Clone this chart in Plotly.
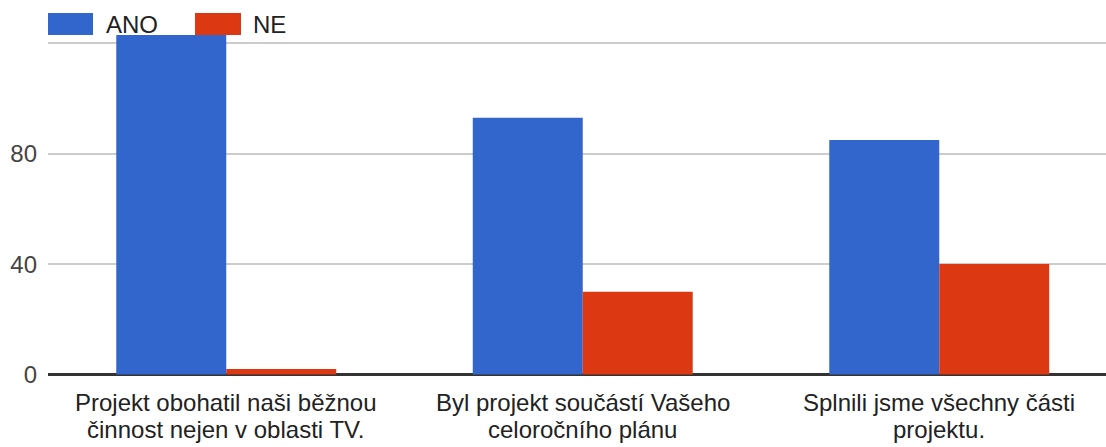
import plotly.graph_objects as go

# ---- data ----
categories = ["Projekt obohatil naši běžnou činnost nejen v oblasti TV.",
              "Byl projekt součástí Vašeho celoročního plánu",
              "Splnili jsme všechny části projektu."]
label_line1 = ["Projekt obohatil naši běžnou", "Byl projekt součástí Vašeho", "Splnili jsme všechny části"]
label_line2 = ["činnost nejen v oblasti TV.", "celoročního plánu", "projektu."]
series_names = ["ANO", "NE"]
ano_values = [123, 93, 85]
ne_values = [2, 30, 40]
tick_values = [0, 40, 80, 120]
tick_labels = ["0", "40", "80", ""]

BLUE = "#3366cc"
RED = "#dc3912"
FONT = "Arial, 'Liberation Sans', sans-serif"

W, H = 1106, 447
ML, MR, MT, MB = 48, 0, 0, 70
PW, PH = W - ML - MR, H - MT - MB


def px_to_paper_x(px):
    return (px - ML) / PW


def px_to_paper_y(py):
    return (H - MB - py) / PH


fig = go.Figure()
fig.add_trace(go.Bar(x=list(range(len(categories))), y=ano_values, name=series_names[0],
                     marker=dict(color=BLUE, line=dict(width=0))))
fig.add_trace(go.Bar(x=list(range(len(categories))), y=ne_values, name=series_names[1],
                     marker=dict(color=RED, line=dict(width=0))))

# manual legend (large swatches)
legend_items = [(series_names[0], BLUE, 48, 93, 104), (series_names[1], RED, 195, 241, 251)]
for name, color, x0, x1, tx in legend_items:
    fig.add_shape(type="rect", xref="paper", yref="paper",
                  x0=px_to_paper_x(x0), x1=px_to_paper_x(x1),
                  y0=px_to_paper_y(35), y1=px_to_paper_y(13),
                  fillcolor=color, line=dict(width=0), layer="above")
    fig.add_annotation(xref="paper", yref="paper", x=px_to_paper_x(tx), y=px_to_paper_y(24),
                       text=name, showarrow=False, xanchor="left", yanchor="middle",
                       font=dict(family=FONT, size=24, color="#222222"))

# category labels (two lines each)
for i in range(len(categories)):
    fig.add_annotation(xref="x", yref="paper", x=i, y=px_to_paper_y(403),
                       text=label_line1[i], showarrow=False, xanchor="center", yanchor="middle",
                       font=dict(family=FONT, size=24, color="#222222"))
    fig.add_annotation(xref="x", yref="paper", x=i, y=px_to_paper_y(429),
                       text=label_line2[i], showarrow=False, xanchor="center", yanchor="middle",
                       font=dict(family=FONT, size=24, color="#222222"))

px_per_unit = 2.76
y_bottom = -(H - MB - 374.5) / px_per_unit
y_top = y_bottom + PH / px_per_unit

fig.update_layout(
    width=W, height=H,
    margin=dict(l=ML, r=MR, t=MT, b=MB, pad=0),
    paper_bgcolor="white", plot_bgcolor="white",
    showlegend=False,
    barmode="group", bargap=0.383, bargroupgap=0.0,
    font=dict(family=FONT, size=24, color="#444444"),
    xaxis=dict(range=[-0.5, -0.5 + PW / 356.5], showticklabels=False, showgrid=False,
               zeroline=False, showline=False, ticks=""),
    yaxis=dict(range=[y_bottom, y_top], tickvals=tick_values, ticktext=tick_labels,
               showgrid=True, gridcolor="#cccccc", gridwidth=2,
               zeroline=True, zerolinecolor="#333333", zerolinewidth=3,
               showline=False, ticks="", ticklabelstandoff=10,
               tickfont=dict(family=FONT, size=24, color="#444444")),
)

fig.write_html("out.html",
               config={"displayModeBar": False},
               post_script="document.body.style.margin='0';document.body.style.padding='0';"
                           "document.body.style.overflow='hidden';")
